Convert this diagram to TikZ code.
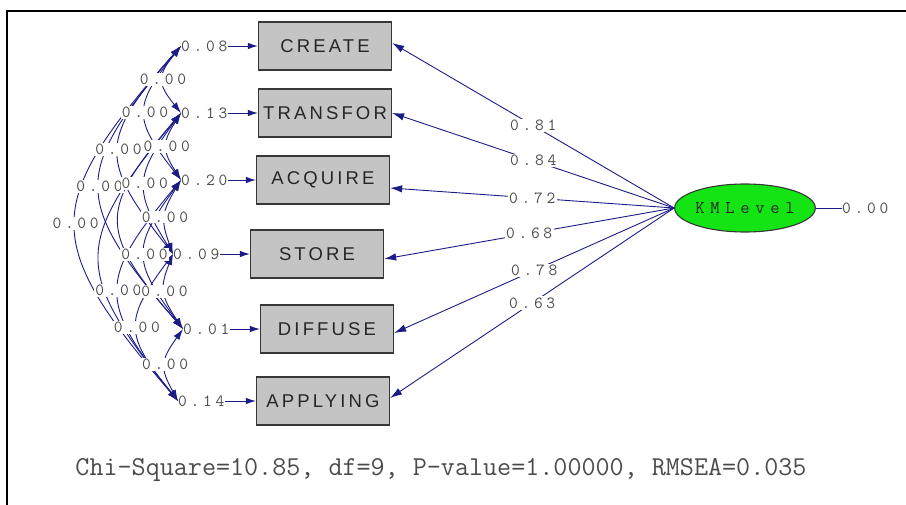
\documentclass[tikz,border=0pt]{standalone}
\usepackage{fontspec}
\usetikzlibrary{arrows.meta,shapes.geometric,calc}
\newfontfamily\boxfont[LetterSpace=17]{Liberation Sans}
\newfontfamily\lisnum[LetterSpace=22]{Latin Modern Mono}
\newfontfamily\liskm[LetterSpace=32]{Latin Modern Mono}
\newcommand\numfnt{\lisnum\fontsize{17}{19}\selectfont}
\newcommand\kmfnt{\liskm\fontsize{18}{20}\selectfont}
\newcommand\fitfnt{\ttfamily\fontsize{27.3}{30}\selectfont}
\definecolor{lisnavy}{RGB}{28,28,135}
\definecolor{boxgray}{RGB}{196,196,196}
\definecolor{boxline}{RGB}{55,55,55}
\definecolor{numgray}{RGB}{75,75,75}
\definecolor{kmgreen}{RGB}{20,228,20}
\tikzset{
  obsbox/.style={draw=boxline, line width=1.3pt, fill=boxgray, minimum width=133pt, minimum height=48pt, inner sep=0pt, font=\boxfont\fontsize{18.5}{21}\selectfont, text=black!85},
  errnum/.style={inner sep=0pt, text=numgray, font=\numfnt},
  covlab/.style={fill=white, inner sep=1pt, text=numgray, font=\numfnt},
  loadlab/.style={fill=white, inner sep=1.5pt, text=numgray, font=\numfnt},
  loadline/.style={draw=lisnavy, line width=0.9pt, -{Latex[length=12pt,width=7.5pt]}},
  errline/.style={draw=lisnavy, line width=0.9pt, -{Latex[length=10pt,width=6.5pt]}},
  covline/.style={draw=lisnavy, line width=0.9pt, {Latex[length=11pt,width=7pt]}-{Latex[length=11pt,width=7pt]}},
  latent/.style={ellipse, draw=boxline, line width=1.1pt, fill=kmgreen, minimum width=134pt, minimum height=48pt, inner sep=0pt, font=\kmfnt, text=black!85}
}
\begin{document}
\begin{tikzpicture}[x=1pt,y=-1pt]
\useasboundingbox (0,0) rectangle (906,505);
% frame
\draw[line width=2.4pt] (7,505) -- (7,11) -- (906,11);

% observed boxes
\node[obsbox] (c1) at (325,46) {CREATE};
\node[obsbox] (c2) at (325,113) {TRANSFOR};
\node[obsbox] (c3) at (323,180) {ACQUIRE};
\node[obsbox] (c4) at (317,254) {STORE};
\node[obsbox] (c5) at (327,329) {DIFFUSE};
\node[obsbox] (c6) at (323,401) {APPLYING};

% error variances
\node[errnum, anchor=west] (e1) at (181,46) {0.08};
\node[errnum, anchor=west] (e2) at (181,113) {0.13};
\node[errnum, anchor=west] (e3) at (181,180) {0.20};
\node[errnum, anchor=west] (e4) at (173,254) {0.09};
\node[errnum, anchor=west] (e5) at (183,329) {0.01};
\node[errnum, anchor=west] (e6) at (178,401) {0.14};
\foreach \i in {1,...,6} { \draw[errline] (e\i.east) -- (c\i.west); }

% covariance arcs
\draw[covline] (e1.west) .. controls (157,76) and (157,83) .. coordinate[pos=0.5] (m12) (e2.west);
\draw[covline] (e1.west) .. controls (133,106) and (133,119) .. coordinate[pos=0.5] (m13) (e3.west);
\draw[covline] (e1.west) .. controls (99,139) and (99,160) .. coordinate[pos=0.5] (m14) (e4.west);
\draw[covline] (e1.west) .. controls (72,172) and (72,201) .. coordinate[pos=0.5] (m15) (e5.west);
\draw[covline] (e1.west) .. controls (41,205) and (41,241) .. coordinate[pos=0.5] (m16) (e6.west);
\draw[covline] (e2.west) .. controls (162,143) and (162,150) .. coordinate[pos=0.5] (m23) (e3.west);
\draw[covline] (e2.west) .. controls (134,176) and (134,191) .. coordinate[pos=0.5] (m24) (e4.west);
\draw[covline] (e2.west) .. controls (98,210) and (98,231) .. (e5.west);
\draw[covline] (e2.west) .. controls (73,243) and (73,271) .. (e6.west);
\draw[covline] (e3.west) .. controls (161,213) and (161,221) .. coordinate[pos=0.5] (m34) (e4.west);
\draw[covline] (e3.west) .. controls (132,247) and (132,261) .. coordinate[pos=0.5] (m35) (e5.west);
\draw[covline] (e3.west) .. controls (98,279) and (98,302) .. coordinate[pos=0.5] (m36) (e6.west);
\draw[covline] (e4.west) .. controls (160,287) and (160,295) .. coordinate[pos=0.5] (m45) (e5.west);
\draw[covline] (e4.west) .. controls (124,320) and (124,335) .. coordinate[pos=0.5] (m46) (e6.west);
\draw[covline] (e5.west) .. controls (160,361) and (160,368) .. coordinate[pos=0.5] (m56) (e6.west);
\foreach \m in {m12,m13,m14,m15,m16,m23,m24,m34,m35,m36,m45,m46,m56} { \node[covlab] at (\m) {0.00}; }

% latent
\node[latent] (km) at (745,208) {KMLevel};
\node[errnum, anchor=west] (kmv) at (842,208) {0.00};
\draw[lisnavy, line width=0.9pt] (km.east) -- (kmv.west);

% loadings
\draw[loadline] (km.west) -- node[loadlab, pos=0.5] {0.81} ([yshift=3pt]c1.east);
\draw[loadline] (km.west) -- node[loadlab, pos=0.5] {0.84} (c2.east);
\draw[loadline] (km.west) -- node[loadlab, pos=0.5] {0.72} ([yshift=-8pt]c3.east);
\draw[loadline] (km.west) -- node[loadlab, pos=0.5] {0.68} ([yshift=-5pt]c4.east);
\draw[loadline] (km.west) -- node[loadlab, pos=0.5] {0.78} ([yshift=-4pt]c5.east);
\draw[loadline] (km.west) -- node[loadlab, pos=0.5] {0.63} ([yshift=3pt]c6.east);

% fit statistics
\node[inner sep=0pt, text=numgray, font=\fitfnt] (fit) at (441,470) {Chi-Square=10.85, df=9, P-value=1.00000, RMSEA=0.035};
\end{tikzpicture}
\end{document}
